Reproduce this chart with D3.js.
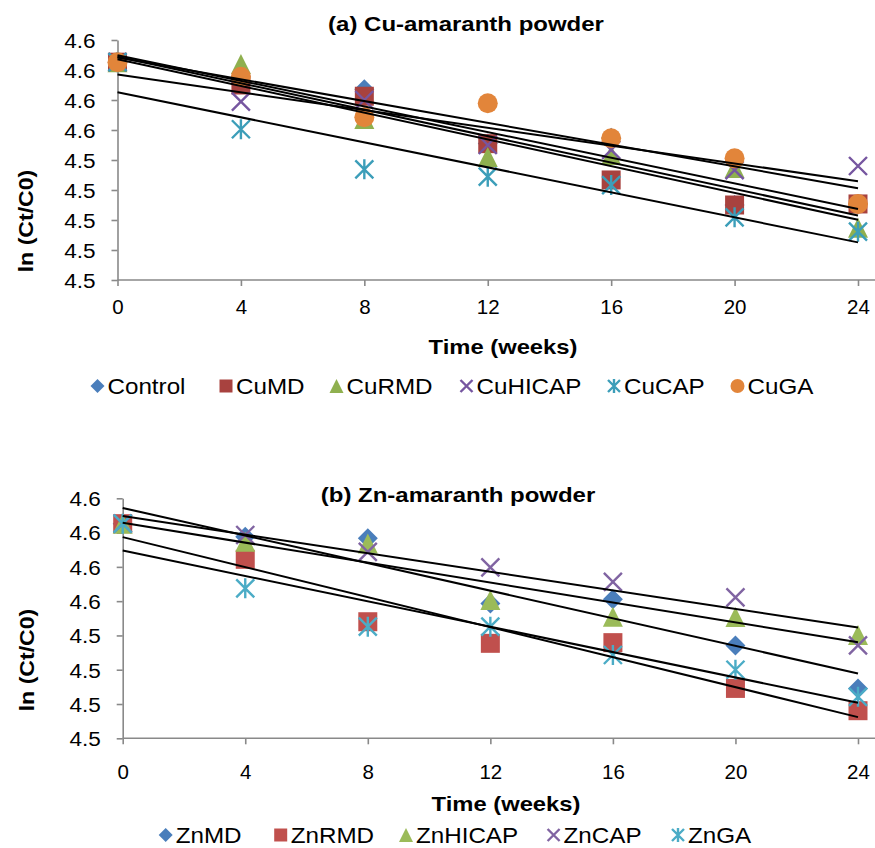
<!DOCTYPE html>
<html>
<head>
<meta charset="utf-8">
<script src="https://cdn.jsdelivr.net/npm/d3@7"></script>
<style>
  html, body { margin: 0; padding: 0; background: #fff; }
  svg { display: block; font-family: "Liberation Sans", Arial, sans-serif; }
</style>
</head>
<body>
<svg id="chart" width="875" height="848"></svg>
<script>
// Storage time (weeks)
const weeks = [0, 4, 8, 12, 16, 20, 24];
const xTicks = [0, 4, 8, 12, 16, 20, 24];

// (a) Cu-amaranth powder, ln(Ct/C0)
const cuNames   = ["Control", "CuMD", "CuRMD", "CuHICAP", "CuCAP", "CuGA"];
const cuControl = [4.6052, 4.5913, 4.5871, 4.5510, 4.5549, 4.5100, 4.5107];
const cuMD      = [4.6052, 4.5900, 4.5825, 4.5509, 4.5267, 4.5100, 4.5107];
const cuRMD     = [4.6052, 4.6040, 4.5673, 4.5420, 4.5433, 4.5347, 4.4949];
const cuHICAP   = [4.6052, 4.5789, 4.5800, 4.5500, 4.5467, 4.5333, 4.5360];
const cuCAP     = [4.6052, 4.5605, 4.5338, 4.5289, 4.5233, 4.5018, 4.4922];
const cuGA      = [4.6052, 4.5955, 4.5685, 4.5778, 4.5545, 4.5411, 4.5107];
const yTicksA   = [4.46, 4.48, 4.50, 4.52, 4.54, 4.56, 4.58, 4.60, 4.62];

// (b) Zn-amaranth powder, ln(Ct/C0)
const znNames   = ["ZnMD", "ZnRMD", "ZnHICAP", "ZnCAP", "ZnGA"];
const znMD      = [4.6052, 4.5976, 4.5967, 4.5587, 4.5611, 4.5342, 4.5091];
const znRMD     = [4.6052, 4.5844, 4.5480, 4.5354, 4.5358, 4.5091, 4.4961];
const znHICAP   = [4.6052, 4.5947, 4.5937, 4.5607, 4.5509, 4.5507, 4.5402];
const znCAP     = [4.6052, 4.5986, 4.5888, 4.5797, 4.5713, 4.5622, 4.5342];
const znGA      = [4.6052, 4.5675, 4.5451, 4.5451, 4.5286, 4.5200, 4.5042];
const yTicksB   = [4.48, 4.50, 4.52, 4.54, 4.56, 4.58, 4.60, 4.62];

const svg = d3.select("#chart");
const AXIS = "#898989";

// marker path generators, s = full marker size
const shapes = {
  diamond: s => { const r = s / 2; return `M0,${-r}L${r},0L0,${r}L${-r},0Z`; },
  square:  s => { const r = s / 2 - 0.5; return `M${-r},${-r}H${r}V${r}H${-r}Z`; },
  triangle:s => { const r = s / 2; return `M0,${-r}L${r},${r}L${-r},${r}Z`; },
  circle:  s => { const r = s / 2; return `M${r},0A${r},${r} 0 1,1 ${-r},0A${r},${r} 0 1,1 ${r},0Z`; },
  x:       s => { const r = s / 2 - 1; return `M${-r},${-r}L${r},${r}M${-r},${r}L${r},${-r}`; },
  star:    s => { const r = s / 2 - 1; return `M${-r},${-r}L${r},${r}M${-r},${r}L${r},${-r}M0,${-r - 1}L0,${r + 1}`; }
};
const filled = { diamond: true, square: true, triangle: true, circle: true, x: false, star: false };

function marker(g, shape, color, size, x, y) {
  const p = g.append("path")
    .attr("d", shapes[shape](size))
    .attr("transform", `translate(${x},${y})`);
  if (filled[shape]) p.attr("fill", color);
  else p.attr("fill", "none").attr("stroke", color).attr("stroke-width", 2.4);
}

// text with a slight horizontal stretch
function label(g, txt, x, y, opt) {
  const o = Object.assign({ size: 21, weight: "normal", anchor: "start", sx: 1.08, rot: 0 }, opt || {});
  g.append("text")
    .attr("transform", `translate(${x},${y}) rotate(${o.rot}) scale(${o.sx},1)`)
    .attr("text-anchor", o.anchor)
    .attr("font-size", o.size)
    .attr("font-weight", o.weight)
    .attr("fill", "#000")
    .text(txt);
}

function linearFit(xs, ys) {
  const mx = d3.mean(xs), my = d3.mean(ys);
  const sxy = d3.sum(xs, (x, i) => (x - mx) * (ys[i] - my));
  const sxx = d3.sum(xs, x => (x - mx) * (x - mx));
  const b = sxy / sxx;
  return { a: my - b * mx, b };
}

function panel(cfg) {
  const g = svg.append("g");
  const x = d3.scaleLinear().domain([0, 24]).range([cfg.x0, cfg.x1]);
  const y = d3.scaleLinear().domain(cfg.yDomain).range([cfg.yBottom, cfg.yTop]);
  const fmt = d3.format(".1f");

  // y axis
  const ya = g.append("g").attr("transform", `translate(${cfg.x0},0)`)
    .call(d3.axisLeft(y).tickValues(cfg.yTicks).tickFormat(fmt).tickSize(6).tickSizeOuter(0));
  ya.select(".domain").attr("stroke", AXIS).attr("stroke-width", 1.6);
  ya.selectAll(".tick line").attr("stroke", AXIS).attr("stroke-width", 1.6);
  ya.selectAll(".tick text")
    .attr("font-family", "Liberation Sans, Arial, sans-serif")
    .attr("font-size", 20.5).attr("fill", "#000")
    .attr("x", -22 / 1.1).attr("dy", "0.36em")
    .attr("transform", "scale(1.1,1)");

  // x axis (line continues to the right edge)
  const xa = g.append("g").attr("transform", `translate(0,${cfg.yBottom})`)
    .call(d3.axisBottom(x).tickValues(xTicks).tickFormat(d3.format("d")).tickSize(6).tickSizeOuter(0));
  xa.select(".domain").remove();
  g.append("line")
    .attr("x1", cfg.x0).attr("x2", 875).attr("y1", cfg.yBottom).attr("y2", cfg.yBottom)
    .attr("stroke", AXIS).attr("stroke-width", 1.6);
  xa.selectAll(".tick line").attr("stroke", AXIS).attr("stroke-width", 1.6);
  xa.selectAll(".tick text")
    .attr("font-family", "Liberation Sans, Arial, sans-serif")
    .attr("font-size", 20.5).attr("fill", "#000")
    .attr("y", cfg.tickTextY).attr("dy", 0);

  // markers, series in order
  cfg.series.forEach(s => {
    s.values.forEach((v, i) => marker(g, s.shape, s.color, 20, x(weeks[i]), y(v)));
  });

  // linear trendlines
  cfg.series.forEach(s => {
    const f = linearFit(weeks, s.values);
    g.append("line")
      .attr("x1", x(0)).attr("y1", y(f.a))
      .attr("x2", x(24)).attr("y2", y(f.a + f.b * 24))
      .attr("stroke", "#000").attr("stroke-width", 2);
  });

  // titles
  label(g, cfg.title, cfg.titleX, cfg.titleY, { size: 20, weight: "bold", anchor: "middle", sx: 1.2 });
  label(g, "Time (weeks)", cfg.xTitleX, cfg.xTitleY, { size: 20.5, weight: "bold", anchor: "middle", sx: 1.16 });
  label(g, "ln (Ct/C0)", cfg.yTitleX, cfg.yTitleY, { size: 21, weight: "bold", anchor: "middle", sx: 1.1, rot: -90 });

  // legend
  cfg.series.forEach((s, i) => {
    const lx = cfg.legendX[i];
    marker(g, s.shape, s.color, 14, lx, cfg.legendY - 8);
    label(g, s.name, lx + 10, cfg.legendY, { size: 22, sx: 1.1 });
  });
}

panel({
  title: "(a) Cu-amaranth powder", titleX: 466, titleY: 31,
  x0: 117.5, x1: 858, yTop: 40, yBottom: 280,
  yDomain: [4.46, 4.62], yTicks: yTicksA, tickTextY: 34,
  xTitleX: 503, xTitleY: 354, yTitleX: 33, yTitleY: 221,
  legendX: [97.5, 226, 336.5, 466.5, 614, 737.5], legendY: 394,
  series: [
    { name: cuNames[0], values: cuControl, shape: "diamond",  color: "#4A7EBB" },
    { name: cuNames[1], values: cuMD,      shape: "square",   color: "#A8423F" },
    { name: cuNames[2], values: cuRMD,     shape: "triangle", color: "#8FB04F" },
    { name: cuNames[3], values: cuHICAP,   shape: "x",        color: "#7656A0" },
    { name: cuNames[4], values: cuCAP,     shape: "star",     color: "#3C9EB9" },
    { name: cuNames[5], values: cuGA,      shape: "circle",   color: "#E2853A" }
  ]
});

panel({
  title: "(b) Zn-amaranth powder", titleX: 458, titleY: 501.5,
  x0: 122.7, x1: 858, yTop: 498.3, yBottom: 738.3,
  yDomain: [4.48, 4.62], yTicks: yTicksB, tickTextY: 41,
  xTitleX: 506, xTitleY: 811, yTitleX: 34, yTitleY: 660,
  legendX: [165.7, 280.7, 406, 553.6, 678], legendY: 843,
  series: [
    { name: znNames[0], values: znMD,    shape: "diamond",  color: "#4A7EBB" },
    { name: znNames[1], values: znRMD,   shape: "square",   color: "#C0504D" },
    { name: znNames[2], values: znHICAP, shape: "triangle", color: "#9BBB59" },
    { name: znNames[3], values: znCAP,   shape: "x",        color: "#8064A2" },
    { name: znNames[4], values: znGA,    shape: "star",     color: "#4BACC6" }
  ]
});
</script>
</body>
</html>
